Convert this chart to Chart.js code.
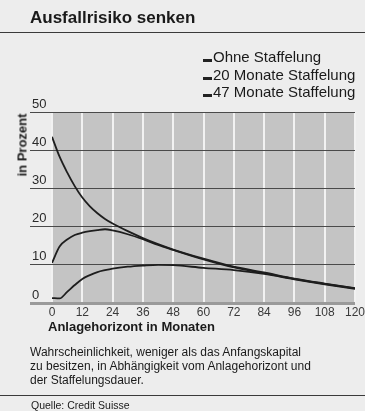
<!DOCTYPE html>
<html>
<head>
<meta charset="utf-8">
<script src="https://cdn.jsdelivr.net/npm/chart.js@4/dist/chart.umd.min.js"></script>
<style>
  html, body { margin: 0; padding: 0; }
  body { width: 365px; height: 411px; background: #ededed; position: relative; overflow: hidden;
         font-family: "Liberation Sans", Arial, sans-serif; color: #1a1a1a; }
  #wrap { position: absolute; left: 0; top: 0; width: 365px; height: 411px; }
  .title { position: absolute; left: 30px; top: 8px; font-size: 17px; font-weight: bold; }
  .rule { position: absolute; left: 0; width: 365px; height: 0; border-top: 1.5px solid #3a3a3a; }
  .legend { position: absolute; left: 203px; top: 48px; font-size: 15px; line-height: 17.5px; }
  .legend div { position: relative; padding-left: 10px; white-space: nowrap; }
  .legend div::before { content: ""; position: absolute; left: 0; top: 11px; width: 9px; height: 3px; background: #222; }
  .ytitle { position: absolute; left: 22px; top: 145px; font-size: 13px; font-weight: bold;
            transform: translate(-50%, -50%) rotate(-90deg); white-space: nowrap; }
  .xtitle { position: absolute; left: 48px; top: 319px; font-size: 13px; font-weight: bold; }
  .caption { position: absolute; left: 30px; top: 345px; font-size: 12px; line-height: 14px; }
  .source { position: absolute; left: 31px; top: 399px; font-size: 10.5px; }
</style>
</head>
<body>
<div id="wrap"><canvas id="chart-risk" width="365" height="411"></canvas></div>
<div class="title">Ausfallrisiko senken</div>
<div class="rule" style="top:32px"></div>
<div class="legend" id="legend"></div>
<div class="ytitle">in Prozent</div>
<div class="xtitle">Anlagehorizont in Monaten</div>
<div class="caption">Wahrscheinlichkeit, weniger als das Anfangskapital<br>zu besitzen, in Abhängigkeit vom Anlagehorizont und<br>der Staffelungsdauer.</div>
<div class="rule" style="top:395px; border-top-width:1px"></div>
<div class="source">Quelle: Credit Suisse</div>
<script>
const months = [0, 3, 6, 9, 12, 15, 18, 21, 24, 30, 36, 42, 48, 60, 72, 84, 96, 108, 120];
const seriesNames = ['Ohne Staffelung', '20 Monate Staffelung', '47 Monate Staffelung'];
const ohne = [43.5, 38.3, 34.2, 30.6, 27.6, 25.3, 23.5, 22.0, 20.8, 18.8, 17.0, 15.4, 14.0, 11.6, 9.5, 8.0, 6.4, 5.1, 3.9];
const staffel20 = [10.5, 14.8, 16.6, 17.8, 18.4, 18.8, 19.1, 19.3, 19.0, 18.0, 16.7, 15.2, 13.9, 11.4, 9.3, 7.8, 6.3, 5.0, 3.8];
const staffel47 = [1.3, 1.2, 2.9, 4.7, 6.3, 7.3, 8.1, 8.6, 9.0, 9.5, 9.8, 10.0, 9.9, 9.2, 8.6, 7.6, 6.2, 4.9, 3.7];
const yTicks = [0, 10, 20, 30, 40, 50];
const xTicks = [0, 12, 24, 36, 48, 60, 72, 84, 96, 108, 120];

const legendBox = document.getElementById('legend');
seriesNames.forEach(n => {
    const d = document.createElement('div');
    d.textContent = n;
    legendBox.appendChild(d);
});

const toPoints = (vals) => months.map((m, i) => ({ x: m, y: vals[i] }));

const plotBg = {
    id: 'plotBg',
    beforeDraw(chart) {
        const { ctx, chartArea: a } = chart;
        ctx.save();
        ctx.fillStyle = '#c4c4c4';
        ctx.fillRect(a.left, a.top, a.right - a.left, a.bottom - a.top);
        ctx.restore();
    }
};

const lineStyle = {
    borderColor: '#1e1e1e',
    borderWidth: 1.8,
    pointRadius: 0,
    fill: false,
    cubicInterpolationMode: 'monotone'
};

new Chart(document.getElementById('chart-risk'), {
    type: 'line',
    data: {
        datasets: [
            { label: seriesNames[0], data: toPoints(ohne), ...lineStyle },
            { label: seriesNames[1], data: toPoints(staffel20), ...lineStyle },
            { label: seriesNames[2], data: toPoints(staffel47), ...lineStyle }
        ]
    },
    options: {
        responsive: false,
        animation: false,
        layout: { padding: { left: 32, top: 112, right: 10, bottom: 88 } },
        plugins: { legend: { display: false }, tooltip: { enabled: false } },
        scales: {
            x: {
                type: 'linear',
                min: 0, max: 120,
                afterBuildTicks(scale) { scale.ticks = xTicks.map(v => ({ value: v })); },
                afterFit(scale) { scale.height = 20; scale.paddingLeft = 0; scale.paddingRight = 0; },
                border: { display: false },
                grid: { color: '#f2f2f2', lineWidth: 2, drawTicks: false },
                ticks: { color: '#3a3a3a', padding: 2, font: { family: 'Liberation Sans', size: 12 } }
            },
            y: {
                min: 0, max: 50,
                afterBuildTicks(scale) { scale.ticks = yTicks.map(v => ({ value: v })); },
                afterFit(scale) { scale.width = 20; scale.paddingTop = 0; scale.paddingBottom = 0; },
                border: { display: false },
                grid: {
                    color: (c) => c.tick && c.tick.value === 0 ? '#9a9a9a' : '#4a4a4a',
                    lineWidth: (c) => c.tick && c.tick.value === 0 ? 3 : 1,
                    drawTicks: true,
                    tickLength: 22
                },
                ticks: {
                    color: '#2a2a2a', crossAlign: 'far', labelOffset: -8, padding: 0,
                    font: { family: 'Liberation Sans', size: 13 }
                }
            }
        }
    },
    plugins: [plotBg]
});
</script>
</body>
</html>
